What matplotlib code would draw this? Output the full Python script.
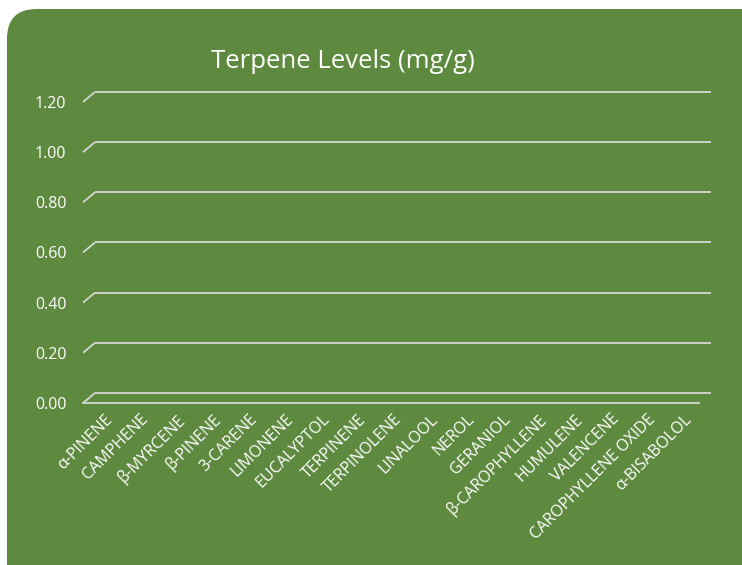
import numpy as np
import matplotlib
matplotlib.use("Agg")
import matplotlib.pyplot as plt
from matplotlib.patches import FancyBboxPatch

terpenes = ['α-PINENE', 'CAMPHENE', 'β-MYRCENE', 'β-PINENE', '3-CARENE', 'LIMONENE',
            'EUCALYPTOL', 'TERPINENE', 'TERPINOLENE', 'LINALOOL', 'NEROL', 'GERANIOL',
            'β-CAROPHYLLENE', 'HUMULENE', 'VALENCENE', 'CAROPHYLLENE OXIDE', 'α-BISABOLOL']
levels = [0, 0, 0, 0, 0, 0, 0, 0, 0, 0, 0, 0, 0, 0, 0, 0, 0]
yticks = [0.0, 0.2, 0.4, 0.6, 0.8, 1.0, 1.2]

plt.rcParams['font.family'] = ['Open Sans', 'DejaVu Sans']

bg = '#5E8A40'
grid = '#D6D6D6'

fig = plt.figure(figsize=(7.42, 5.65), dpi=100)
fig.patch.set_facecolor('white')
box = FancyBboxPatch((7 / 742, -0.05), 1.05, 1.05 - 9 / 565,
                     boxstyle='round,pad=0,rounding_size=0.04',
                     transform=fig.transFigure, facecolor=bg, edgecolor='none',
                     mutation_aspect=742 / 565, zorder=-10)
fig.patches.append(box)

ax = fig.add_axes([83 / 742, 162 / 565, 616 / 742, 301 / 565])
ax.set_facecolor('none')
n = len(terpenes)
x = np.arange(n)
ax.set_xlim(-0.5, n - 0.5)
ax.set_ylim(0, 1.2)

# depth offset of the 3D back wall
dx = 0.33
dy = 0.04

ax.bar(x, levels, width=0.6, color='#A9D18E')

for v in yticks:
    ax.plot([-0.5, -0.5 + dx], [v, v + dy], color=grid, lw=1.3, clip_on=False,
            solid_capstyle='butt')
    ax.plot([-0.5 + dx, n - 0.5 + dx], [v + dy, v + dy], color=grid, lw=1.3,
            clip_on=False, solid_capstyle='butt')
ax.plot([-0.5, n - 0.5], [0, 0], color=grid, lw=1.3, clip_on=False)

for s in ax.spines.values():
    s.set_visible(False)
ax.set_yticks(yticks)
ax.set_yticklabels(['%.2f' % v for v in yticks], color='white', fontsize=11.5)
ax.tick_params(axis='y', length=0, pad=12)
ax.set_xticks(x + 0.08)
ax.set_xticklabels(terpenes, rotation=45, ha='right', va='top',
                   rotation_mode='anchor', color='white', fontsize=11.5)
ax.tick_params(axis='x', length=0, pad=6)

fig.text(343 / 742, 1 - 62 / 565, 'Terpene Levels (mg/g)', ha='center', va='center',
         color='white', fontsize=18.5)

fig.savefig('out.png', dpi=100, facecolor=fig.get_facecolor())
